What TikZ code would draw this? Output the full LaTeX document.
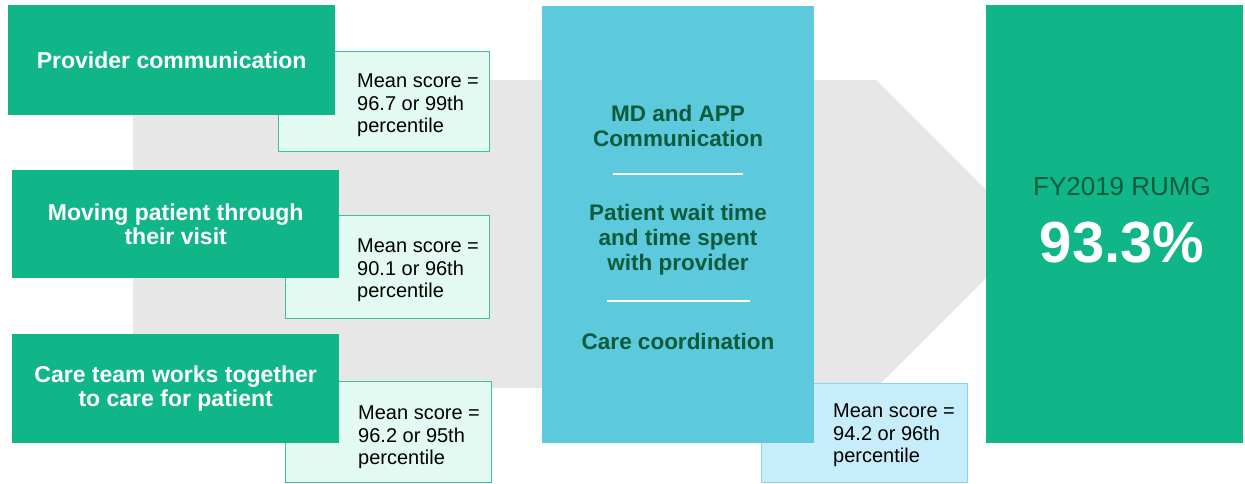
\documentclass[tikz,border=0pt]{standalone}
\usepackage{fontspec}
\setmainfont{Liberation Sans}
\definecolor{rgreen}{HTML}{11B688}
\definecolor{notegreen}{HTML}{E2FAF1}
\definecolor{greenedge}{HTML}{3CC096}
\definecolor{rblue}{HTML}{5CC9DD}
\definecolor{noteblue}{HTML}{C6EDF9}
\definecolor{blueedge}{HTML}{8CD3EA}
\definecolor{darkgreen}{HTML}{0C5B3A}
\definecolor{arrowgrey}{HTML}{E7E7E7}

\begin{document}
\begin{tikzpicture}[x=1pt,y=-1pt,
  topic/.style={fill=rgreen,text=white,anchor=north west,inner sep=0pt,
    align=center,font=\fontsize{23}{24}\selectfont\bfseries},
  notebox/.style={anchor=north west,inner sep=0pt,line width=1pt},
  notetext/.style={anchor=north west,inner sep=0pt,align=left,
    font=\fontsize{20}{22.5}\selectfont},
  bluetext/.style={text=darkgreen,align=center,
    font=\fontsize{22.5}{25}\selectfont\bfseries}]
  \useasboundingbox (0,0) rectangle (1245,483);
  % grey arrow behind everything
  \fill[arrowgrey] (133,80) -- (876,80) -- (1030,234) -- (876,388) -- (133,388) -- cycle;

  % score notes (under the boxes)
  \node[notebox,draw=greenedge,fill=notegreen,minimum width=211pt,minimum height=100pt] (n1) at (278,51) {};
  \node[notebox,draw=greenedge,fill=notegreen,minimum width=204pt,minimum height=103pt] (n2) at (285,215) {};
  \node[notebox,draw=greenedge,fill=notegreen,minimum width=206pt,minimum height=101pt] (n3) at (285,381) {};
  \node[notebox,draw=blueedge,fill=noteblue,minimum width=206pt,minimum height=99pt] (n4) at (761,383) {};
  \node[notetext] (t1) at (357,74) {Mean score =\\96.7 or 99th\\percentile};
  \node[notetext] (t2) at (357,239) {Mean score =\\90.1 or 96th\\percentile};
  \node[notetext] (t3) at (358,406) {Mean score =\\96.2 or 95th\\percentile};
  \node[notetext] (t4) at (833,404) {Mean score =\\94.2 or 96th\\percentile};

  % left topics
  \node[topic,minimum width=327pt,minimum height=110pt] (p1) at (8,5) {Provider communication};
  \node[topic,minimum width=327pt,minimum height=108pt] (p2) at (12,170) {Moving patient through\\their visit};
  \node[topic,minimum width=327pt,minimum height=109pt] (p3) at (12,334) {Care team works together\\to care for patient};

  % middle column
  \node[fill=rblue,anchor=north west,inner sep=0pt,minimum width=272pt,minimum height=437pt] (mid) at (542,6) {};
  \node[bluetext] (m1) at (678,126) {MD and APP\\Communication};
  \node[bluetext] (m2) at (678,240) {Patient wait time\\and time spent\\with provider};
  \node[bluetext] (m3) at (678,341) {Care coordination};
  \draw[white,line width=2pt] (613,174) -- (743,174);
  \draw[white,line width=2pt] (607,301) -- (750,301);

  % result
  \node[fill=rgreen,anchor=north west,inner sep=0pt,minimum width=257pt,minimum height=438pt] (res) at (986,5) {};
  \node[text=darkgreen,font=\fontsize{26}{28}\selectfont] (fy) at (1122,187) {FY2019 RUMG};
  \node[text=white,font=\fontsize{58}{60}\selectfont\bfseries] (pct) at (1122,243) {93.3\%};
\end{tikzpicture}
\end{document}
